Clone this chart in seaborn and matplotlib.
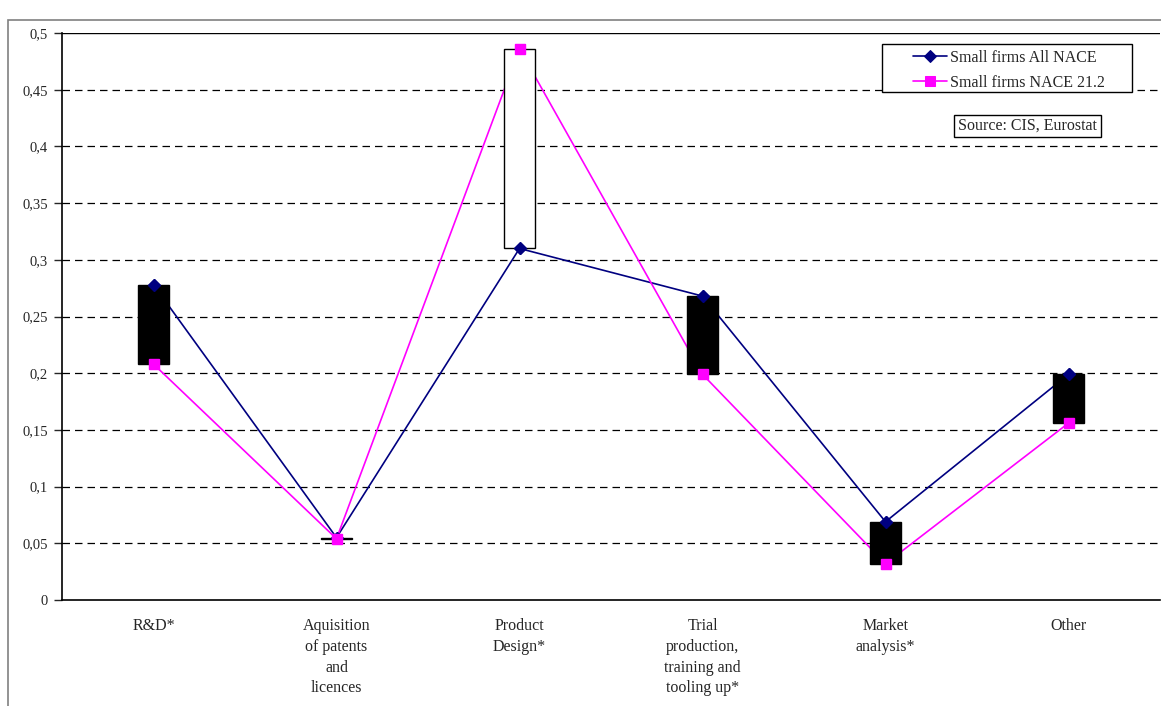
import numpy as np
import pandas as pd
import matplotlib
matplotlib.use('Agg')
import matplotlib.pyplot as plt
import matplotlib.patches as mpatches
import seaborn as sns

# data
categories = ['R&D*', 'Aquisition\nof patents\nand\nlicences', 'Product\nDesign*',
              'Trial\nproduction,\ntraining and\ntooling up*', 'Market\nanalysis*', 'Other']
all_nace = [0.278, 0.055, 0.310, 0.268, 0.069, 0.199]
nace_212 = [0.208, 0.054, 0.486, 0.199, 0.032, 0.156]
yticks = [0, 0.05, 0.1, 0.15, 0.2, 0.25, 0.3, 0.35, 0.4, 0.45, 0.5]
ytick_labels = ['0', '0,05', '0,1', '0,15', '0,2', '0,25', '0,3', '0,35', '0,4', '0,45', '0,5']

sns.set_style('white')
plt.rcParams['font.family'] = ['Liberation Serif', 'DejaVu Serif']

df = pd.DataFrame({'pos': np.arange(len(categories)),
                   'Small firms All NACE': all_nace,
                   'Small firms NACE 21.2': nace_212})

W, H = 1161, 706
fig = plt.figure(figsize=(W / 100, H / 100), dpi=100)
ax = fig.add_axes([62 / W, 1 - 600 / H, 1098 / W, 567 / H])

# outer chart frame
fig.patches.append(mpatches.Rectangle((8 / W, -0.05), 1.2, 1 - 20 / H + 0.05,
                                      transform=fig.transFigure, fill=False,
                                      edgecolor='#808080', linewidth=1.2))

# grid lines
for v in yticks[1:-1]:
    ax.axhline(v, color='black', linestyle=(0, (6, 4)), linewidth=0.9, zorder=1)
ax.axhline(0.5, color='black', linewidth=1.0, zorder=1)

# lines
sns.lineplot(data=df, x='pos', y='Small firms All NACE', ax=ax, color='#000080',
             linewidth=1.2, marker='D', markersize=6, markeredgecolor='#000080',
             label='Small firms All NACE', zorder=2)
sns.lineplot(data=df, x='pos', y='Small firms NACE 21.2', ax=ax, color='#ff00ff',
             linewidth=1.2, marker='s', markersize=6.5, markeredgecolor='#ff00ff',
             label='Small firms NACE 21.2', zorder=2)

# up/down bars
lo = np.minimum(all_nace, nace_212)
hi = np.maximum(all_nace, nace_212)
colors = ['white' if b > a else 'black' for a, b in zip(all_nace, nace_212)]
ax.bar(df['pos'], hi - lo, bottom=lo, width=0.17, color=colors,
       edgecolor='black', linewidth=1.0, zorder=3)

# markers on top of bars
ax.plot(df['pos'], all_nace, linestyle='none', marker='D', markersize=6,
        color='#000080', zorder=4)
ax.plot(df['pos'], nace_212, linestyle='none', marker='s', markersize=6.5,
        color='#ff00ff', zorder=4)

ax.set_xlim(-0.5, 5.5)
ax.set_ylim(0, 0.5)
ax.set_yticks(yticks)
ax.set_yticklabels(ytick_labels, fontsize=10.5)
ax.set_xticks(df['pos'])
ax.set_xticklabels(categories, fontsize=11.5, linespacing=1.4, va='top')
ax.set_xticks(np.arange(0.5, 5.5, 1), minor=True)
ax.tick_params(axis='x', which='major', length=0, pad=13)
ax.tick_params(axis='x', which='minor', length=7, direction='inout', width=1)
ax.tick_params(axis='y', length=6, direction='out', width=1, pad=4, left=True)
ax.set_xlabel('')
ax.set_ylabel('')
for s in ['top', 'right']:
    ax.spines[s].set_visible(False)
for s in ['left', 'bottom']:
    ax.spines[s].set_color('black')
    ax.spines[s].set_linewidth(1.2)

# legend: contents without frame, Excel-like wide frame drawn separately
leg = ax.legend(loc='upper left', bbox_to_anchor=((913 - 62) / 1098, (600 - 50) / 567),
                fontsize=11.5, frameon=False, handlelength=2.15, handletextpad=0.15,
                borderpad=0, labelspacing=0.55, borderaxespad=0)
leg.set_zorder(6)
ax.add_patch(mpatches.Rectangle(((882 - 62) / 1098, (600 - 92) / 567), 250 / 1098, 48 / 567,
                                transform=ax.transAxes, facecolor='white',
                                edgecolor='black', linewidth=1.0, zorder=5))

ax.add_patch(mpatches.Rectangle(((954 - 62) / 1098, (600 - 137) / 567), 147 / 1098, 22 / 567,
                                transform=ax.transAxes, facecolor='white',
                                edgecolor='black', linewidth=1.0, zorder=5))
ax.text((1027.5 - 62) / 1098, (600 - 126) / 567, 'Source: CIS, Eurostat', transform=ax.transAxes,
        ha='center', va='center', fontsize=11.5, zorder=6)

fig.savefig('out.png', dpi=100)
